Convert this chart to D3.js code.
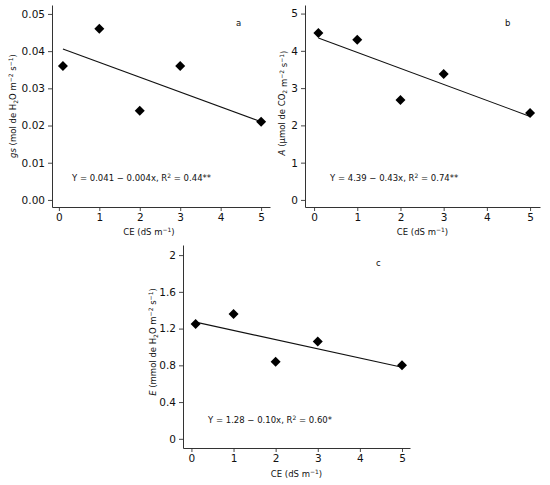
<!DOCTYPE html>
<html><head><meta charset="utf-8">
<script src="https://cdn.jsdelivr.net/npm/d3@7"></script>
<style>
body{margin:0;background:#fff;}
svg{display:block;font-family:"DejaVu Sans",sans-serif;}
</style></head>
<body>
<svg id="chart" width="550" height="485"></svg>
<script>
// ---- data ----
const ceLevels = [0.1, 1, 2, 3, 5];
const xTicks = [0, 1, 2, 3, 4, 5];

const gsValues = [0.036, 0.046, 0.024, 0.036, 0.021];
const gsFit = [0.041, -0.004];
const gsTicks = [0, 0.01, 0.02, 0.03, 0.04, 0.05];
const gsTickLabels = ["0.00", "0.01", "0.02", "0.03", "0.04", "0.05"];

const aValues = [4.48, 4.30, 2.68, 3.38, 2.33];
const aFit = [4.39, -0.43];
const aTicks = [0, 1, 2, 3, 4, 5];
const aTickLabels = ["0", "1", "2", "3", "4", "5"];

const eValues = [1.25, 1.36, 0.84, 1.06, 0.80];
const eFit = [1.28, -0.10];
const eTicks = [0, 0.4, 0.8, 1.2, 1.6, 2];
const eTickLabels = ["0", "0.4", "0.8", "1.2", "1.6", "2"];

const svg = d3.select("#chart");

function panel(o) {
  const x = d3.scaleLinear().domain(o.xDomain).range([o.left, o.right]);
  const y = d3.scaleLinear().domain(o.yDomain).range([o.bottom, o.top]);
  const g = svg.append("g");

  const xAxis = d3.axisBottom(x).tickValues(xTicks).tickFormat(d3.format("d")).tickSize(4).tickPadding(3).tickSizeOuter(0);
  const gx = g.append("g").attr("transform", `translate(0,${o.bottom})`).call(xAxis);
  const yAxis = d3.axisLeft(y).tickValues(o.yTicks).tickFormat((d, i) => o.yTickLabels[i]).tickSize(4).tickPadding(3).tickSizeOuter(0);
  const gy = g.append("g").attr("transform", `translate(${o.left},0)`).call(yAxis);
  [gx, gy].forEach(a => {
    a.selectAll("path.domain").attr("stroke", "#333").attr("stroke-width", 1);
    a.selectAll(".tick line").attr("stroke", "#333").attr("stroke-width", 0.9);
    a.selectAll(".tick text").attr("font-size", 10.5).attr("fill", "#111").attr("font-family", "DejaVu Sans");
  });

  // regression line
  const fitLine = [ceLevels[0], ceLevels[ceLevels.length - 1]].map(v => [v, o.fit[0] + o.fit[1] * v]);
  g.append("path").datum(fitLine)
    .attr("d", d3.line().x(d => x(d[0])).y(d => y(d[1])))
    .attr("fill", "none").attr("stroke", "#111").attr("stroke-width", 1.1);

  // points
  const sym = d3.symbol().type(d3.symbolSquare).size(50);
  g.selectAll("path.pt").data(ceLevels.map((c, i) => [c, o.values[i]])).enter()
    .append("path").attr("class", "pt")
    .attr("d", sym)
    .attr("transform", d => `translate(${x(d[0])},${y(d[1])}) rotate(45)`)
    .attr("fill", "#000");

  // x label
  const xl = g.append("text").attr("x", (o.left + o.right) / 2 + o.xlabDx).attr("y", o.xlabY)
    .attr("text-anchor", "middle").attr("font-size", 8.5).attr("fill", "#111");
  xl.append("tspan").text("CE (dS m");
  xl.append("tspan").attr("dy", -3.5).attr("font-size", 6).text("\u22121");
  xl.append("tspan").attr("dy", 3.5).text(")");

  // y label
  const yl = g.append("text").attr("transform", `translate(${o.ylabX},${o.ylabY}) rotate(-90)`)
    .attr("text-anchor", "middle").attr("font-size", 8.5).attr("fill", "#111");
  o.ylab(yl);

  // equation
  const eq = g.append("text").attr("x", o.eqX).attr("y", o.eqY).attr("font-size", 8.5).attr("fill", "#111");
  eq.append("tspan").text(o.eqText + ", R");
  eq.append("tspan").attr("dy", -3.5).attr("font-size", 6).text("2");
  eq.append("tspan").attr("dy", 3.5).text(" = " + o.r2);

  g.append("text").attr("x", o.letX).attr("y", o.letY).attr("font-size", 8.5).attr("fill", "#111").text(o.letter);
}

function unitLabel(t, italicPart, mid) {
  t.append("tspan").attr("font-style", "italic").text(italicPart);
  t.append("tspan").text(" (" + mid[0]);
  if (mid[1]) { t.append("tspan").attr("dy", 2).attr("font-size", 6).text(mid[1]); t.append("tspan").attr("dy", -2).text(mid[2]); }
  t.append("tspan").text(" m");
  t.append("tspan").attr("dy", -3.5).attr("font-size", 6).text("\u22122");
  t.append("tspan").attr("dy", 3.5).text(" s");
  t.append("tspan").attr("dy", -3.5).attr("font-size", 6).text("\u22121");
  t.append("tspan").attr("dy", 3.5).text(")");
}

panel({
  left: 52, right: 270, top: 5, bottom: 207,
  xDomain: [-0.17, 5.22], yDomain: [-0.0019, 0.0524],
  yTicks: gsTicks, yTickLabels: gsTickLabels, values: gsValues, fit: gsFit,
  xlabY: 235, xlabDx: -12,
  ylabX: 16, ylabY: 106, ylab: t => unitLabel(t, "gs", ["mol de H", "2", "O"]),
  eqX: 72, eqY: 181, eqText: "Y = 0.041 \u2212 0.004x", r2: "0.44**",
  letX: 236, letY: 26, letter: "a"
});
panel({
  left: 305, right: 540, top: 5, bottom: 207,
  xDomain: [-0.21, 5.23], yDomain: [-0.19, 5.23],
  yTicks: aTicks, yTickLabels: aTickLabels, values: aValues, fit: aFit,
  xlabY: 235, xlabDx: 0,
  ylabX: 285, ylabY: 103, ylab: t => unitLabel(t, "A", ["\u03bcmol de CO", "2", ""]),
  eqX: 330, eqY: 181, eqText: "Y = 4.39 \u2212 0.43x", r2: "0.74**",
  letX: 505, letY: 26, letter: "b"
});
panel({
  left: 183, right: 410, top: 245, bottom: 448,
  xDomain: [-0.2, 5.19], yDomain: [-0.1, 2.11],
  yTicks: eTicks, yTickLabels: eTickLabels, values: eValues, fit: eFit,
  xlabY: 477, xlabDx: 0,
  ylabX: 156, ylabY: 342, ylab: t => unitLabel(t, "E", ["mmol de H", "2", "O"]),
  eqX: 208, eqY: 423, eqText: "Y = 1.28 \u2212 0.10x", r2: "0.60*",
  letX: 376, letY: 266, letter: "c"
});
</script>
</body></html>
